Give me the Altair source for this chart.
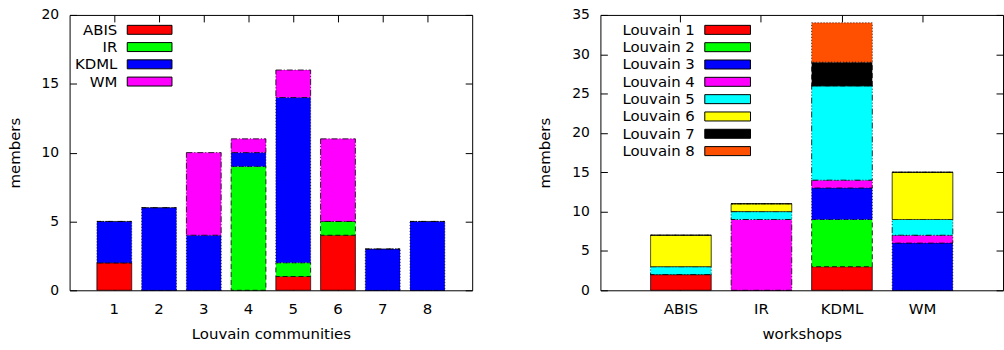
import altair as alt
import pandas as pd

FONT = "DejaVu Sans"
SIZE = 15
NUM_SIZE = 14

# Louvain communities (x of the left panel) and workshops (x of the right panel)
communities = ["1", "2", "3", "4", "5", "6", "7", "8"]
workshops = ["ABIS", "IR", "KDML", "WM"]

# members of each workshop found in each Louvain community
abis = [2, 0, 0, 0, 1, 4, 0, 0]
ir = [0, 0, 0, 9, 1, 1, 0, 0]
kdml = [3, 6, 4, 1, 12, 0, 3, 5]
wm = [0, 0, 6, 1, 2, 6, 0, 0]

louvain_names = ["Louvain 1", "Louvain 2", "Louvain 3", "Louvain 4",
                 "Louvain 5", "Louvain 6", "Louvain 7", "Louvain 8"]

workshop_colors = ["#ff0000", "#00ff00", "#0000ff", "#ff00ff"]
louvain_colors = ["#ff0000", "#00ff00", "#0000ff", "#ff00ff",
                  "#00ffff", "#ffff00", "#000000", "#ff4f00"]
dash_styles = [[1, 0], [5, 3], [1, 2], [6, 2, 1, 2],
               [6, 2, 1, 2, 1, 2], [1, 0], [5, 3], [1, 2]]

counts = [abis, ir, kdml, wm]

left_rows = []
for w, (name, vals) in enumerate(zip(workshops, counts)):
    for c, v in zip(communities, vals):
        left_rows.append({"community": c, "workshop": name, "members": v, "order": w})
left_df = pd.DataFrame(left_rows)

right_rows = []
for k, lname in enumerate(louvain_names):
    for w, name in enumerate(workshops):
        right_rows.append({"workshop": name, "louvain": lname,
                           "members": counts[w][k], "order": k})
right_df = pd.DataFrame(right_rows)


def panel(df, cat_field, cats, series_field, series, colors, ymax, x_title,
          pad_inner, pad_outer, leg_range, text_x, rect_x, rect_x2):
    color = alt.Color(f"{series_field}:N",
                      scale=alt.Scale(domain=series, range=colors), legend=None)
    dash = alt.StrokeDash(f"{series_field}:N",
                          scale=alt.Scale(domain=series, range=dash_styles[:len(series)]),
                          legend=None)
    xscale = alt.Scale(domain=cats, paddingInner=pad_inner, paddingOuter=pad_outer)
    yscale = alt.Scale(domain=[0, ymax], nice=False)
    ticks = list(range(0, ymax + 1, 5))

    bars = alt.Chart(df).mark_bar(stroke="black", strokeWidth=1, strokeOpacity=0.8).encode(
        x=alt.X(f"{cat_field}:N", sort=cats, scale=xscale,
                axis=alt.Axis(orient="bottom", offset=-7, tickSize=7, domain=False,
                              grid=False, labelAngle=0, labelPadding=11,
                              title=x_title, titlePadding=10)),
        y=alt.Y("members:Q", stack="zero", scale=yscale,
                axis=alt.Axis(orient="left", offset=-7, tickSize=7, values=ticks,
                              grid=False, domain=False, labelPadding=11,
                              labelFontSize=NUM_SIZE,
                              title="members", titlePadding=19)),
        color=color,
        strokeDash=dash,
        order=alt.Order("order:Q", sort="ascending"),
    )

    # mirrored ticks on the top and right edges
    mirror = alt.Chart(df).mark_bar(opacity=0).encode(
        x=alt.X(f"{cat_field}:N", sort=cats, scale=xscale,
                axis=alt.Axis(orient="top", offset=-7, tickSize=7, labels=False,
                              grid=False, domain=False, title=None)),
        y=alt.Y("members:Q", stack="zero", scale=yscale,
                axis=alt.Axis(orient="right", offset=-7, tickSize=7, labels=False,
                              grid=False, values=ticks, domain=False, title=None)),
    )

    leg_df = pd.DataFrame({series_field: series})
    ly = alt.Y(f"{series_field}:N", sort=series,
               scale=alt.Scale(type="band", range=leg_range,
                               paddingInner=0.48, paddingOuter=0.24),
               axis=None)
    leg_rect = alt.Chart(leg_df).mark_rect(stroke="black", strokeWidth=1).encode(
        x=alt.value(rect_x), x2=alt.value(rect_x2), y=ly,
        color=color, strokeDash=dash,
    )
    leg_text = alt.Chart(leg_df).mark_text(
        align="right", baseline="middle", font=FONT, fontSize=SIZE, color="black"
    ).encode(x=alt.value(text_x), y=ly, text=f"{series_field}:N")

    return (
        alt.layer(bars, mirror, leg_rect, leg_text)
        .resolve_scale(y="independent")
        .resolve_axis(x="independent", y="independent")
        .properties(width=405, height=277)
    )


left = panel(left_df, "community", communities, "workshop", workshops,
             workshop_colors, 20, "Louvain communities",
             0.222, 0.611, [6.3, 75.7], 48, 58, 103)
right = panel(right_df, "workshop", workshops, "louvain", louvain_names,
              louvain_colors, 35, "workshops",
              0.247, 0.623, [6.3, 145.7], 95, 105, 151)

chart = (
    alt.hconcat(left, right, spacing=64)
    .resolve_scale(color="independent", strokeDash="independent")
    .properties(padding={"left": 6, "top": 6, "right": 0, "bottom": 0})
    .configure_view(stroke="black", strokeWidth=1)
    .configure_axis(labelFont=FONT, labelFontSize=SIZE, titleFont=FONT,
                    titleFontSize=SIZE, titleFontWeight="normal",
                    labelColor="black", titleColor="black",
                    tickColor="black", tickWidth=1)
)

chart.save("out.html", embed_options={"renderer": "svg", "actions": False})
